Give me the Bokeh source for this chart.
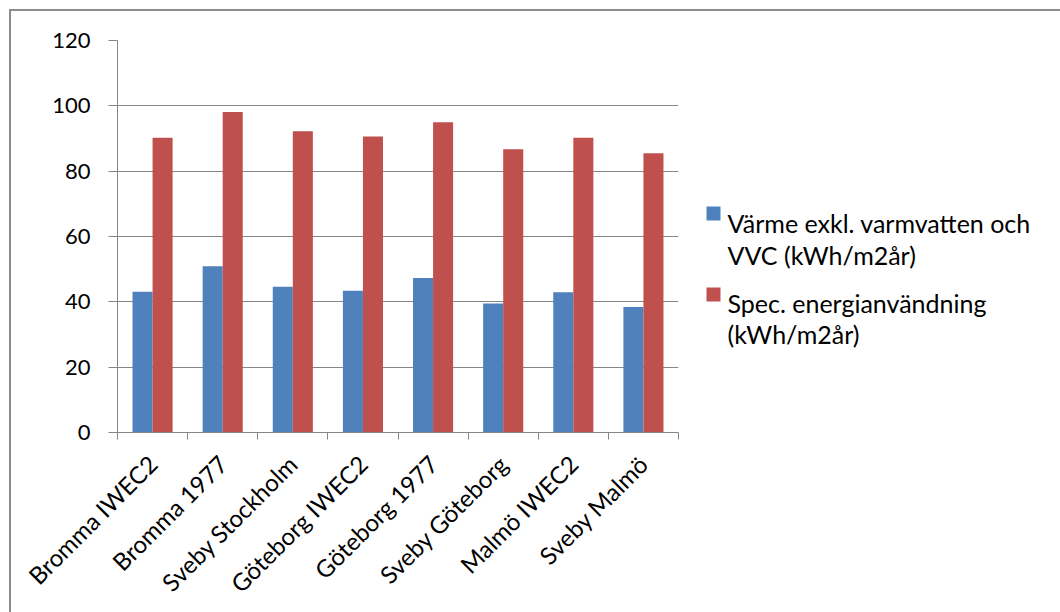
import numpy as np
from bokeh.plotting import figure
from bokeh.layouts import row
from bokeh.models import ColumnDataSource, FixedTicker, Range1d
from bokeh.core.properties import value
from bokeh.embed import file_html
from bokeh.resources import INLINE

# Energy use per weather file / location (kWh/m2 år)
locations = ["Bromma IWEC2", "Bromma 1977", "Sveby Stockholm", "Göteborg IWEC2",
             "Göteborg 1977", "Sveby Göteborg", "Malmö IWEC2", "Sveby Malmö"]
heating = [43.1, 50.9, 44.6, 43.4, 47.3, 39.5, 42.9, 38.4]
specific_energy = [90.2, 98.1, 92.2, 90.6, 95.0, 86.7, 90.2, 85.5]
y_ticks = [0, 20, 40, 60, 80, 100, 120]
series_names = ["Värme exkl. varmvatten och\nVVC (kWh/m2år)",
                "Spec. energianvändning\n(kWh/m2år)"]

BLUE = "#4F81BD"
RED = "#C0504D"
GRID = "#868686"
FONT = "Lato"

n = len(locations)
centers = np.arange(n) + 0.5
bar_w = 1 / 3.5  # Excel gap width 150 %

src = ColumnDataSource(dict(
    xb=centers - bar_w / 2,
    xr=centers + bar_w / 2,
    heating=heating,
    spec=specific_energy,
))

p = figure(width=679, height=601, x_range=Range1d(0, n), y_range=Range1d(0, 120),
           output_backend="svg", toolbar_location=None,
           min_border_left=106, min_border_right=12, min_border_top=29, min_border_bottom=180)
p.outline_line_color = None
p.background_fill_color = "white"
p.border_fill_color = "white"

p.vbar(x="xb", top="heating", width=bar_w, source=src, fill_color=BLUE, line_color=None)
p.vbar(x="xr", top="spec", width=bar_w, source=src, fill_color=RED, line_color=None)

# x axis: labels at category centres, tick marks between categories
xa = p.xaxis[0]
xa.ticker = FixedTicker(ticks=list(centers), minor_ticks=list(range(n + 1)))
xa.major_label_overrides = {float(c): lab for c, lab in zip(centers, locations)}
xa.major_tick_line_color = None
xa.major_tick_out = 7
xa.major_tick_in = 0
xa.minor_tick_line_color = GRID
xa.minor_tick_in = 0
xa.minor_tick_out = 7
xa.axis_line_color = GRID
xa.major_label_orientation = np.pi / 4
xa.major_label_standoff = 20
xa.major_label_text_font = FONT
xa.major_label_text_font_size = "24px"
xa.major_label_text_color = "black"

ya = p.yaxis[0]
ya.ticker = FixedTicker(ticks=y_ticks)
ya.major_tick_in = 0
ya.major_tick_out = 9
ya.major_tick_line_color = GRID
ya.minor_tick_line_color = None
ya.axis_line_color = GRID
ya.major_label_standoff = 18
ya.major_label_text_font = FONT
ya.major_label_text_font_size = "22px"
ya.major_label_text_color = "black"

p.xgrid.grid_line_color = None
p.ygrid.ticker = FixedTicker(ticks=y_ticks)
p.ygrid.grid_line_color = GRID
p.ygrid.grid_line_width = 1

# legend panel; its frame lines up with the chart frame (page y 40..432, y grows downward)
leg = figure(width=370, height=601, x_range=Range1d(690, 1060), y_range=Range1d(432, 40),
             output_backend="svg", toolbar_location=None,
             min_border=0, min_border_left=0, min_border_right=0,
             min_border_top=29, min_border_bottom=180)
leg.axis.visible = False
leg.grid.visible = False
leg.outline_line_color = None
leg.background_fill_color = "white"
leg.border_fill_color = "white"

swatch_y = [213, 294]
leg.rect(x=[713, 713], y=swatch_y, width=14, height=14,
         fill_color=[BLUE, RED], line_color=None)
lines = []
for name in series_names:
    lines.extend(name.split("\n"))
leg.text(x=[727] * 4, y=[222, 254, 302, 333], text=lines,
         text_font=value(FONT), text_font_size="25px", text_color="black",
         text_baseline="alphabetic", text_align="left")

layout = row(p, leg, spacing=0, styles={
    "border-top": "2px solid #8c8c8c",
    "border-left": "2px solid #8c8c8c",
    "margin-left": "9px",
    "margin-top": "9px",
})

open("out.html", "w").write(file_html(layout, INLINE))
